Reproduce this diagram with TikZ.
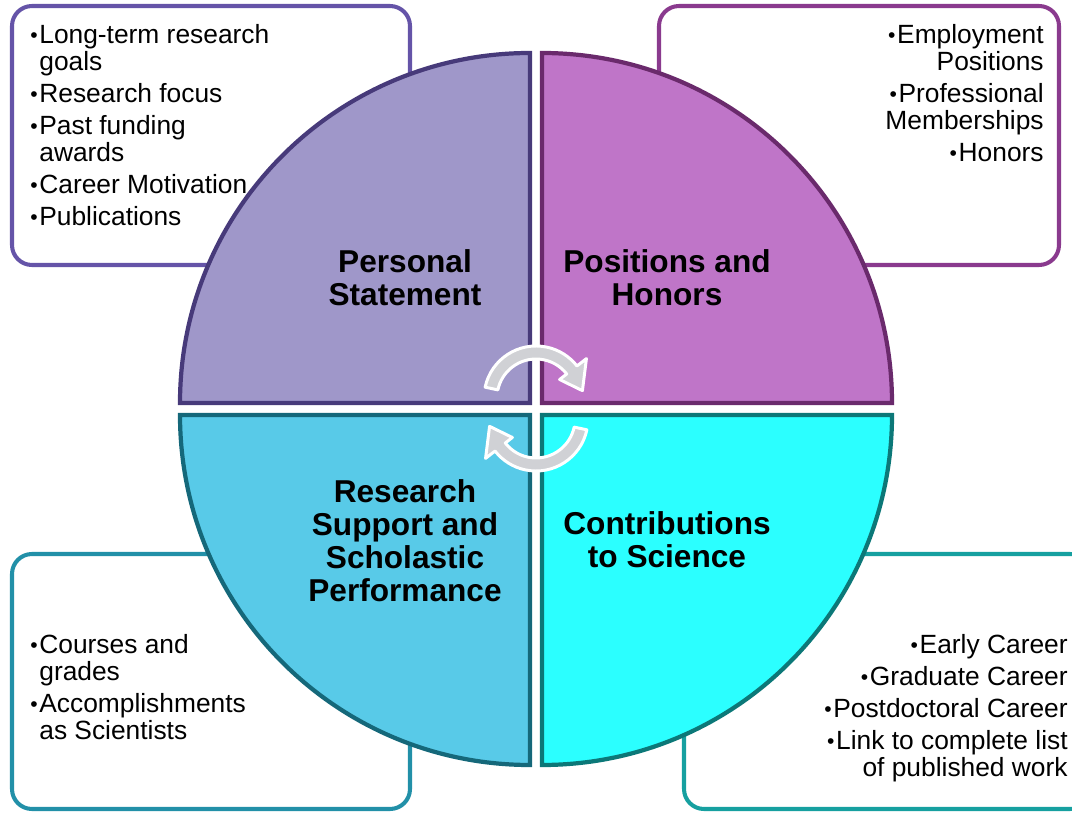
\documentclass[tikz,border=0pt]{standalone}
\usepackage{fontspec}
\setmainfont{Liberation Sans}
\usetikzlibrary{calc,positioning}

\definecolor{psfill}{HTML}{9F97C9}
\definecolor{psline}{HTML}{473A7A}
\definecolor{psbox}{HTML}{6554A8}
\definecolor{phfill}{HTML}{BF75C8}
\definecolor{phline}{HTML}{6A2A6C}
\definecolor{phbox}{HTML}{8A3A8E}
\definecolor{rsfill}{HTML}{58CAE8}
\definecolor{rsline}{HTML}{15687A}
\definecolor{rsbox}{HTML}{2290A8}
\definecolor{csfill}{HTML}{2BFFFF}
\definecolor{csline}{HTML}{0C7878}
\definecolor{csbox}{HTML}{16A0A0}
\definecolor{turngrey}{HTML}{D0D1D5}

% small bullet and hanging indent
\newcommand{\bul}{\makebox[0.18cm][l]{\fontsize{12}{12}\selectfont\raisebox{0.5pt}{•}}}
\newcommand{\hng}{\hspace*{0.18cm}}

\begin{document}
\begin{tikzpicture}[x=0.02cm,y=0.02cm,
  box/.style={rounded corners=0.4cm,line width=2.3pt,fill=white},
  quad/.style={line width=2.4pt},
  title/.style={font=\fontsize{18}{18.8}\selectfont\bfseries,align=center,inner sep=0pt,anchor=north},
  items/.style={font=\fontsize{15}{15.4}\selectfont,inner sep=0pt},
  turn/.style={fill=turngrey,draw=white,line width=1.7pt,line join=round}]
\useasboundingbox (0,0) rectangle (1072,812);
\clip (0,0) rectangle (1072,812);
% boxes behind the circle
\draw[box,draw=psbox] (12,547) rectangle (410,806);
\draw[box,draw=phbox] (659,547) rectangle (1059,806);
\draw[box,draw=rsbox] (12,3) rectangle (410,258);
\draw[box,draw=csbox] (684,3) rectangle (1090,258);
% quarters
\draw[quad,draw=psline,fill=psfill] (530,409) -- (180,409) arc[start angle=180,end angle=90,radius=350] -- cycle;
\draw[quad,draw=phline,fill=phfill] (542,409) -- (542,759) arc[start angle=90,end angle=0,radius=350] -- cycle;
\draw[quad,draw=rsline,fill=rsfill] (530,397) -- (530,47) arc[start angle=-90,end angle=-180,radius=350] -- cycle;
\draw[quad,draw=csline,fill=csfill] (542,397) -- (892,397) arc[start angle=0,end angle=-90,radius=350] -- cycle;
% turning arrows
\coordinate (c1) at (536,414);
\coordinate (c2) at (536,393);
\draw[turn] ($(c1)+(168:52)$) arc[start angle=168,end angle=38,radius=52] -- ($(c1)+(38:64)$) -- ($(c1)+(9:47)$) -- ($(c1)+(38:30)$) -- ($(c1)+(38:39)$) arc[start angle=38,end angle=168,radius=39] -- cycle;
\draw[turn] ($(c2)+(-12:52)$) arc[start angle=-12,end angle=-142,radius=52] -- ($(c2)+(-142:64)$) -- ($(c2)+(-171:47)$) -- ($(c2)+(-142:30)$) -- ($(c2)+(-142:39)$) arc[start angle=-142,end angle=-12,radius=39] -- cycle;
% titles
\node[title] (ps) at (405,563) {Personal\\Statement};
\node[title] (ph) at (667,563) {Positions and\\Honors};
\node[title] (rs) at (405,333) {Research\\Support and\\Scholastic\\Performance};
\node[title] (cs) at (667,301) {Contributions\\to Science};
% lists
\node[items,align=left,anchor=north west] (pslist) at (30,788) {\bul Long-term research\\\hng goals\\[2.8pt]\bul Research focus\\[2.8pt]\bul Past funding\\\hng awards\\[2.8pt]\bul Career Motivation\\[2.8pt]\bul Publications};
\node[items,align=right,anchor=north east] (phlist) at (1044,788) {\bul Employment\\Positions\\[2.8pt]\bul Professional\\Memberships\\[2.8pt]\bul Honors};
\node[items,align=left,anchor=north west] (rslist) at (30,178) {\bul Courses and\\\hng grades\\[2.8pt]\bul Accomplishments\\\hng as Scientists};
\node[items,align=right,anchor=north east] (cslist) at (1068,178) {\bul Early Career\\[2.8pt]\bul Graduate Career\\[2.8pt]\bul Postdoctoral Career\\[2.8pt]\bul Link to complete list\\of published work};
\end{tikzpicture}
\end{document}
